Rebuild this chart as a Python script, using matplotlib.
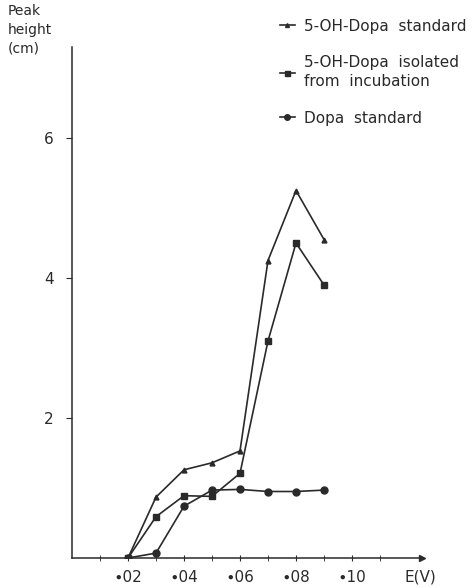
import numpy as np
import matplotlib.pyplot as plt

voltage = [0.02, 0.03, 0.04, 0.05, 0.06, 0.07, 0.08, 0.09]
oh_dopa_std = [0.0, 0.87, 1.26, 1.36, 1.53, 4.25, 5.25, 4.55]
oh_dopa_iso = [0.0, 0.59, 0.89, 0.88, 1.21, 3.1, 4.5, 3.9]
dopa_std = [0.0, 0.07, 0.74, 0.97, 0.98, 0.95, 0.95, 0.97]

x_ticks = [0.02, 0.04, 0.06, 0.08, 0.10]
x_labels = ['∙02', '∙04', '∙06', '∙08', '∙10']
y_ticks = [2, 4, 6]

ink = '#2a2a2a'
plt.rcParams['font.family'] = 'DejaVu Sans'

fig = plt.figure(figsize=(4.74, 5.87), dpi=100)
ax = fig.add_axes([72 / 474, 29 / 587, 350 / 474, 511 / 587])

ax.plot(voltage, oh_dopa_std, color=ink, lw=1.2, marker='^', ms=3.5,
        label='5-OH-Dopa  standard')
ax.plot(voltage, oh_dopa_iso, color=ink, lw=1.2, marker='s', ms=4.5,
        label='5-OH-Dopa  isolated\nfrom  incubation')
ax.plot(voltage, dopa_std, color=ink, lw=1.2, marker='o', ms=5,
        label='Dopa  standard')

ax.set_xlim(0, 0.125)
ax.set_ylim(0, 7.3)

for s in ['top', 'right']:
    ax.spines[s].set_visible(False)
for s in ['left', 'bottom']:
    ax.spines[s].set_color(ink)
    ax.spines[s].set_linewidth(1.1)

ax.plot(1, 0, '>', color=ink, ms=4, transform=ax.transAxes, clip_on=False)

ax.set_xticks(x_ticks)
ax.set_xticklabels(x_labels)
ax.set_xticks(np.arange(0.01, 0.111, 0.01), minor=True)
ax.set_yticks(y_ticks)
ax.tick_params(axis='x', which='both', direction='inout', length=5,
               color=ink, labelcolor=ink, labelsize=11, pad=6)
ax.tick_params(axis='y', direction='out', length=4, color=ink,
               labelcolor=ink, labelsize=11, pad=9)

fig.text(420 / 474, 1 - 577 / 587, 'E(V)', ha='center', va='center',
         fontsize=11, color=ink)
fig.text(8 / 474, 1 - 4 / 587, 'Peak\nheight\n(cm)', ha='left', va='top',
         fontsize=10, color=ink, linespacing=1.45)

leg = fig.legend(loc='upper left', bbox_to_anchor=(266 / 474, 1 - 5 / 587),
                 frameon=False, handlelength=1.0, handletextpad=0.6,
                 labelspacing=1.4, fontsize=11, labelcolor=ink, markerscale=0.8)
for t in leg.get_texts():
    t.set_linespacing(1.35)

fig.savefig('out.png', dpi=100)
